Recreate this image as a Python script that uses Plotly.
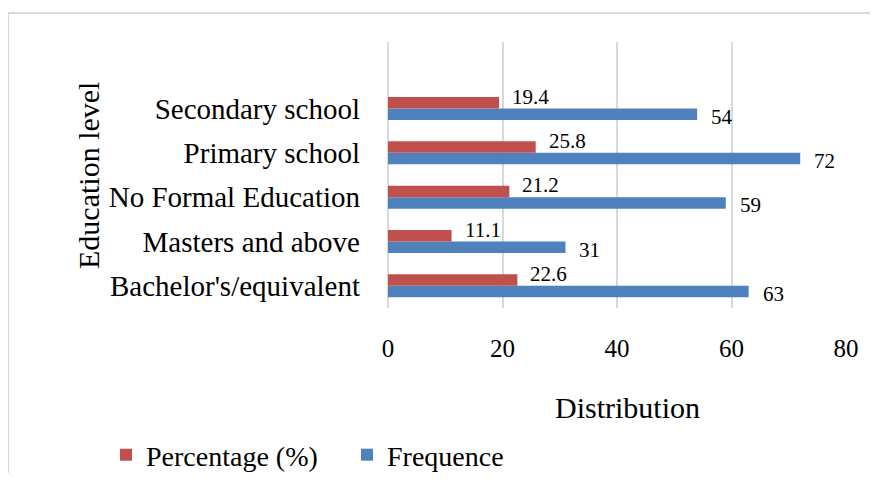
import plotly.graph_objects as go

categories = ["Bachelor's/equivalent", "Masters and above", "No Formal Education", "Primary school", "Secondary school"]
frequence = [63, 31, 59, 72, 54]
percentage = [22.6, 11.1, 21.2, 25.8, 19.4]
x_ticks = [0, 20, 40, 60, 80]

RED = "#C0504D"
BLUE = "#4F81BD"
FONT = "Liberation Serif"

W, H = 862, 465
L, T = 380, 34
PW, PH = 458, 266
R = W - L - PW
B = H - T - PH

def px(xp):
    return (xp - L) / PW

def py(yp):
    return (T + PH - yp) / PH

fig = go.Figure()
fig.add_trace(go.Bar(y=categories, x=frequence, orientation="h", name="Frequence",
                     marker=dict(color=BLUE, line=dict(width=0))))
fig.add_trace(go.Bar(y=categories, x=percentage, orientation="h", name="Percentage (%)",
                     marker=dict(color=RED, line=dict(width=0))))

annotations = []
for c, v in zip(categories, percentage):
    annotations.append(dict(x=v, y=c, xref="x", yref="y", text=f"{v:.1f}", showarrow=False,
                            xanchor="left", yanchor="middle", xshift=11, yshift=12,
                            font=dict(family=FONT, size=21, color="black")))
for c, v in zip(categories, frequence):
    annotations.append(dict(x=v, y=c, xref="x", yref="y", text=str(v), showarrow=False,
                            xanchor="left", yanchor="middle", xshift=12, yshift=-8,
                            font=dict(family=FONT, size=21, color="black")))
annotations.append(dict(x=px(619), y=py(399), xref="paper", yref="paper", text="Distribution",
                        showarrow=False, xanchor="center", yanchor="middle",
                        font=dict(family=FONT, size=30, color="black")))
annotations.append(dict(x=px(80), y=py(168), xref="paper", yref="paper", text="Education level",
                        showarrow=False, xanchor="center", yanchor="middle", textangle=-90,
                        font=dict(family=FONT, size=30, color="black")))

border = dict(color="#d9d9d9", width=2)
fig.update_layout(
    width=W, height=H,
    margin=dict(l=L, r=R, t=T, b=B, autoexpand=False),
    paper_bgcolor="white", plot_bgcolor="white",
    barmode="group", bargap=0.48, bargroupgap=0,
    font=dict(family=FONT, color="black"),
    xaxis=dict(range=[0, 80], tickvals=x_ticks, showgrid=True, gridcolor="#d9d9d9", gridwidth=2,
               zeroline=True, zerolinecolor="#d9d9d9", zerolinewidth=2, showline=False,
               ticks="", tickfont=dict(family=FONT, size=25, color="black"), ticklabelstandoff=23,
               automargin=False),
    yaxis=dict(categoryorder="array", categoryarray=categories, range=[-0.5, 5.5],
               showgrid=False, zeroline=False, showline=False, ticks="",
               tickfont=dict(family=FONT, size=29, color="black"), ticklabelstandoff=27,
               automargin=False),
    showlegend=True,
    legend=dict(orientation="h", x=px(98), y=py(447), xanchor="left", yanchor="middle",
                traceorder="reversed", font=dict(family=FONT, size=28, color="black"),
                entrywidth=196, entrywidthmode="pixels", bgcolor="rgba(0,0,0,0)"),
    annotations=annotations,
    shapes=[
        dict(type="line", xref="paper", yref="paper", x0=px(0), y0=py(5), x1=px(W + 10), y1=py(5),
             line=border, layer="below"),
        dict(type="line", xref="paper", yref="paper", x0=px(0), y0=py(5), x1=px(0), y1=py(H + 10),
             line=border, layer="below"),
    ],
)

fig.write_html("out.html")
